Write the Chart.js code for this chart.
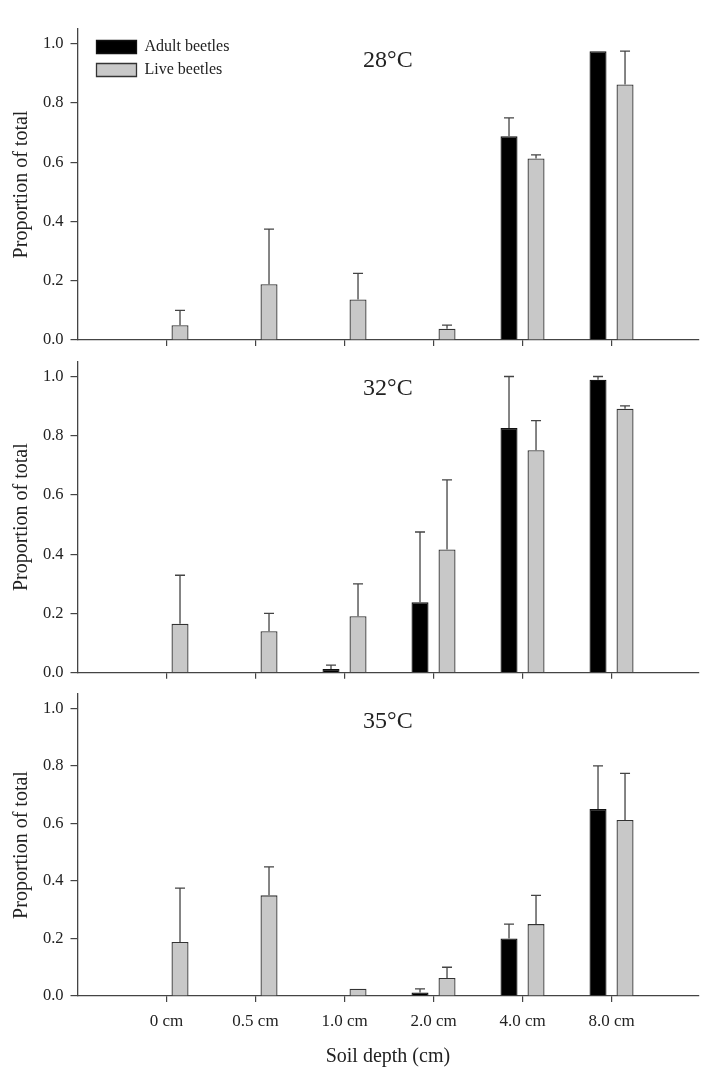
<!DOCTYPE html>
<html>
<head>
<meta charset="utf-8">
<script src="https://cdn.jsdelivr.net/npm/chart.js@4.4.1/dist/chart.umd.min.js"></script>
<style>
  html, body { margin: 0; padding: 0; background: #fff; }
  body { position: relative; width: 704px; height: 1076px; overflow: hidden; }
  canvas { position: absolute; left: 0; }
</style>
</head>
<body>
<canvas id="c28" width="704" height="362" style="top:0px"></canvas>
<canvas id="c32" width="704" height="364" style="top:330px"></canvas>
<canvas id="c35" width="704" height="414" style="top:662px"></canvas>
<script>
/* Soil depth categories */
var depthLabels = ['0 cm', '0.5 cm', '1.0 cm', '2.0 cm', '4.0 cm', '8.0 cm'];

/* 28°C */
var adult28 = [0, 0, 0, 0, 0.688, 0.975];
var adult28Err = [0, 0, 0, 0, 0.062, 0];
var live28 = [0.05, 0.188, 0.137, 0.038, 0.613, 0.863];
var live28Err = [0.05, 0.186, 0.088, 0.012, 0.012, 0.112];

/* 32°C */
var adult32 = [0, 0, 0.0125, 0.238, 0.826, 0.989];
var adult32Err = [0, 0, 0.013, 0.237, 0.174, 0.011];
var live32 = [0.165, 0.14, 0.191, 0.416, 0.751, 0.891];
var live32Err = [0.164, 0.06, 0.109, 0.235, 0.1, 0.01];

/* 35°C */
var adult35 = [0, 0, 0, 0.0125, 0.2, 0.65];
var adult35Err = [0, 0, 0, 0.0125, 0.05, 0.15];
var live35 = [0.188, 0.35, 0.025, 0.063, 0.25, 0.612];
var live35Err = [0.187, 0.099, 0, 0.037, 0.1, 0.162];

Chart.defaults.font.family = "'Liberation Serif', 'Times New Roman', serif";
Chart.defaults.color = '#222';

/* Error bars (upper side only) */
var errorBars = {
    id: 'errorBars',
    afterDatasetsDraw: function (chart) {
        var ctx = chart.ctx;
        var yScale = chart.scales.y;
        ctx.save();
        ctx.strokeStyle = '#444';
        ctx.lineWidth = 1.3;
        chart.data.datasets.forEach(function (ds, i) {
            var meta = chart.getDatasetMeta(i);
            meta.data.forEach(function (bar, j) {
                var err = ds.errors[j];
                if (!err) return;
                var yTop = yScale.getPixelForValue(ds.data[j].y + err);
                ctx.beginPath();
                ctx.moveTo(bar.x, bar.y);
                ctx.lineTo(bar.x, yTop);
                ctx.moveTo(bar.x - 5, yTop);
                ctx.lineTo(bar.x + 5, yTop);
                ctx.stroke();
            });
        });
        ctx.restore();
    }
};

/* Legend sits inside the plot, a bit off the corner */
var legendShift = {
    id: 'legendShift',
    beforeDraw: function (chart) {
        if (chart.options.plugins.legend.display) {
            chart.legend.left = chart.chartArea.left + 12;
            chart.legend.top = chart.chartArea.top + 3;
        }
    }
};

var toPoints = function (values) {
    return values.map(function (v, i) { return {x: i, y: v}; });
};

var makePanel = function (canvasId, title, adult, adultErr, live, liveErr, setup) {
    return new Chart(document.getElementById(canvasId), {
        type: 'bar',
        data: {
            datasets: [
                {
                    label: 'Adult beetles',
                    data: toPoints(adult),
                    errors: adultErr,
                    backgroundColor: '#000000',
                    borderColor: '#111111',
                    borderWidth: 1.3,
                    categoryPercentage: 0.607,
                    barPercentage: 0.63
                },
                {
                    label: 'Live beetles',
                    data: toPoints(live),
                    errors: liveErr,
                    backgroundColor: '#c8c8c8',
                    borderColor: '#333333',
                    borderWidth: 1.3,
                    categoryPercentage: 0.607,
                    barPercentage: 0.63
                }
            ]
        },
        options: {
            responsive: false,
            maintainAspectRatio: false,
            animation: false,
            layout: {
                padding: {left: 0, right: 5.7, top: 0, bottom: setup.padBottom}
            },
            plugins: {
                legend: {
                    display: setup.legend,
                    position: 'chartArea',
                    align: 'start',
                    labels: {
                        boxWidth: 40,
                        boxHeight: 13,
                        padding: 7,
                        color: '#222',
                        font: {size: 16}
                    }
                },
                title: {
                    display: true,
                    text: title,
                    fullSize: false,
                    color: '#222',
                    font: {size: 24, weight: 'normal'},
                    padding: {top: setup.titleTop, bottom: setup.titleBottom}
                },
                tooltip: {enabled: false}
            },
            scales: {
                x: {
                    type: 'linear',
                    min: -1,
                    max: 5.975,
                    offset: false,
                    afterBuildTicks: function (scale) {
                        scale.ticks = scale.ticks.filter(function (t) {
                            return t.value >= 0 && t.value <= depthLabels.length - 1;
                        });
                    },
                    ticks: {
                        stepSize: 1,
                        display: setup.xLabels,
                        padding: 9,
                        color: '#222',
                        font: {size: 17},
                        callback: function (value) { return depthLabels[value]; }
                    },
                    grid: {offset: false, drawOnChartArea: false, tickLength: 6, color: '#444', lineWidth: 1.2},
                    border: {color: '#444', width: 1.3},
                    title: {
                        display: setup.xLabels,
                        text: 'Soil depth (cm)',
                        color: '#222',
                        font: {size: 20},
                        padding: {top: 4, bottom: 0}
                    }
                },
                y: {
                    min: 0,
                    max: 1.05,
                    afterFit: function (scale) {
                        scale.width = 77.5;
                        scale.paddingTop = 0;
                        scale.paddingBottom = 0;
                    },
                    ticks: {
                        stepSize: 0.2,
                        includeBounds: false,
                        padding: 7,
                        color: '#222',
                        font: {size: 16.5},
                        callback: function (value) { return value.toFixed(1); }
                    },
                    grid: {drawOnChartArea: false, tickLength: 7, color: '#444', lineWidth: 1.2},
                    border: {color: '#444', width: 1.3},
                    title: {
                        display: true,
                        text: 'Proportion of total',
                        color: '#222',
                        font: {size: 20},
                        padding: {top: 10, bottom: 0}
                    }
                }
            }
        },
        plugins: [errorBars, legendShift]
    });
};

var chart28 = makePanel('c28', '28°C', adult28, adult28Err, live28, live28Err,
    {legend: true, xLabels: false, titleTop: 46.6, titleBottom: -46.4, padBottom: 16});
var chart32 = makePanel('c32', '32°C', adult32, adult32Err, live32, live32Err,
    {legend: false, xLabels: false, titleTop: 43.9, titleBottom: -41, padBottom: 15.3});
var chart35 = makePanel('c35', '35°C', adult35, adult35Err, live35, live35Err,
    {legend: false, xLabels: true, titleTop: 45.3, titleBottom: -42.1, padBottom: 7.6});
</script>
</body>
</html>
